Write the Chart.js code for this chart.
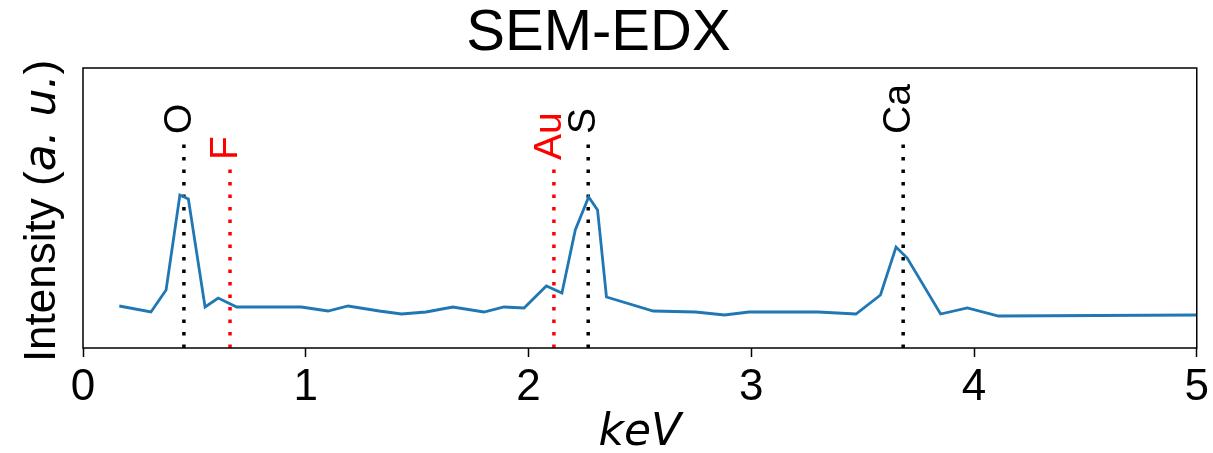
<!DOCTYPE html>
<html>
<head>
<meta charset="utf-8">
<script src="https://cdn.jsdelivr.net/npm/chart.js@4/dist/chart.umd.min.js"></script>
<style>
  html, body { margin: 0; padding: 0; background: #fff; }
  #wrap { width: 1213px; height: 453px; }
</style>
</head>
<body>
<div id="wrap"><canvas id="edx" width="1213" height="453"></canvas></div>
<script>
// spectrum (keV, intensity in arbitrary units)
var energy = [0.163, 0.305, 0.373, 0.435, 0.473, 0.548, 0.607, 0.69, 0.98, 1.10, 1.19, 1.33,
    1.43, 1.54, 1.66, 1.80, 1.89, 1.98, 2.08, 2.15, 2.21, 2.27, 2.31, 2.35, 2.56, 2.75,
    2.88, 2.99, 3.30, 3.47, 3.58, 3.65, 3.70, 3.85, 3.97, 4.11, 5.0];
var intensity = [42, 36, 58, 153, 149, 41, 50, 41, 41, 37, 42, 37,
    34, 36, 41, 36, 41, 40, 62, 55, 118, 151, 138, 51, 37, 36,
    33, 36, 36, 34, 53, 101, 90, 34, 40, 32, 33];

// element markers
var elements = ['O', 'F', 'Au', 'S', 'Ca'];
var elementKeV = [0.453, 0.66, 2.114, 2.268, 3.682];
var elementHeight = [208, 182, 182, 208, 208];
var elementColor = ['#000000', '#ff0000', '#ff0000', '#000000', '#000000'];

var xTicks = [0, 1, 2, 3, 4, 5];

var sans = '"Liberation Sans", Arial, sans-serif';

var datasets = [{
    data: energy.map(function (e, i) { return { x: e, y: intensity[i] }; }),
    borderColor: '#1f77b4',
    borderWidth: 2.8,
    pointRadius: 0,
    tension: 0,
    fill: false
}];
elements.forEach(function (el, i) {
    datasets.push({
        data: [{ x: elementKeV[i], y: 0 }, { x: elementKeV[i], y: elementHeight[i] }],
        borderColor: elementColor[i],
        borderWidth: 3.5,
        borderDash: [3.5, 9],
        borderCapStyle: 'butt',
        pointRadius: 0,
        fill: false
    });
});

var extras = {
    id: 'extras',
    afterDraw: function (chart) {
        var ctx = chart.ctx, a = chart.chartArea;
        var xs = chart.scales.x, ys = chart.scales.y;
        ctx.save();
        // frame
        ctx.strokeStyle = '#000';
        ctx.lineWidth = 1.5;
        ctx.strokeRect(a.left, a.top, a.right - a.left, a.bottom - a.top);

        // element labels
        ctx.font = '39px ' + sans;
        ctx.textAlign = 'left';
        ctx.textBaseline = 'alphabetic';
        elements.forEach(function (el, i) {
            var px = xs.getPixelForValue(elementKeV[i]);
            var py = ys.getPixelForValue(elementHeight[i]);
            ctx.save();
            ctx.translate(px + 7, py - 6);
            ctx.rotate(-Math.PI / 2);
            ctx.fillStyle = elementColor[i];
            ctx.fillText(el, 0, 0);
            ctx.restore();
        });

        // y label with italic part
        var parts = [
            { t: 'Intensity (', f: '44px ' + sans },
            { t: 'a. u.', f: 'italic 44px "DejaVu Sans", sans-serif' },
            { t: ')', f: '44px ' + sans }
        ];
        var total = 0;
        parts.forEach(function (p) { ctx.font = p.f; p.w = ctx.measureText(p.t).width; total += p.w; });
        ctx.translate(55, 211);
        ctx.rotate(-Math.PI / 2);
        ctx.fillStyle = '#000';
        var pos = -total / 2;
        parts.forEach(function (p) { ctx.font = p.f; ctx.fillText(p.t, pos, 0); pos += p.w; });
        ctx.restore();
    }
};

new Chart(document.getElementById('edx'), {
    type: 'line',
    data: { datasets: datasets },
    options: {
        responsive: false,
        animation: false,
        layout: { padding: { left: 0, right: 16, top: 0, bottom: 0 } },
        plugins: {
            legend: { display: false },
            tooltip: { enabled: false },
            title: {
                display: true,
                text: 'SEM-EDX',
                color: '#000',
                font: { family: sans, size: 58, weight: 'normal', lineHeight: 68 / 58 },
                padding: 0
            }
        },
        scales: {
            x: {
                type: 'linear',
                min: 0,
                max: 5,
                afterBuildTicks: function (s) { s.ticks = xTicks.map(function (v) { return { value: v }; }); },
                afterFit: function (s) { s.height = 105; },
                ticks: { color: '#000', font: { family: sans, size: 44 }, padding: 4, maxRotation: 0 },
                grid: { drawOnChartArea: false, drawTicks: true, tickLength: 9, tickColor: '#000', tickWidth: 1.5 },
                border: { display: false },
                title: {
                    display: true,
                    text: 'keV',
                    color: '#000',
                    font: { family: '"DejaVu Sans", sans-serif', size: 44, style: 'italic', lineHeight: 0.9 },
                    padding: 0
                }
            },
            y: {
                min: 0,
                max: 280,
                afterFit: function (s) { s.width = 83; },
                ticks: { display: false },
                grid: { display: false },
                border: { display: false }
            }
        }
    },
    plugins: [extras]
});
</script>
</body>
</html>
